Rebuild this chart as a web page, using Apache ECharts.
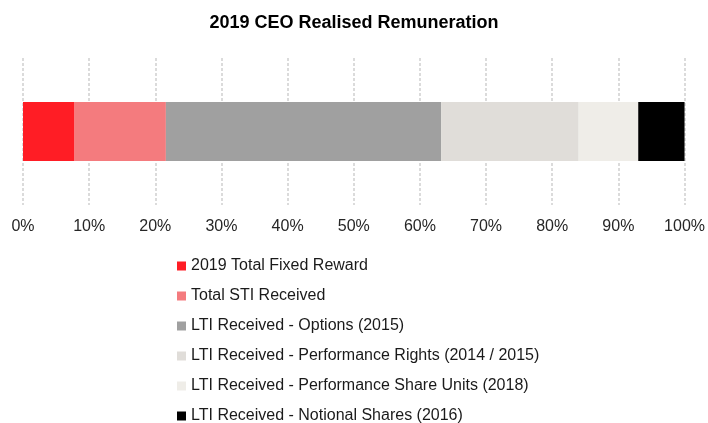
<!DOCTYPE html>
<html>
<head>
<meta charset="utf-8">
<script src="https://cdn.jsdelivr.net/npm/echarts@6/dist/echarts.min.js"></script>
<style>
  html, body { margin: 0; padding: 0; background: #fff; }
  #chart { width: 708px; height: 423px; }
</style>
</head>
<body>
<div id="chart"></div>
<script>
const categories = ['2019 CEO'];
const seriesNames = [
  '2019 Total Fixed Reward',
  'Total STI Received',
  'LTI Received - Options (2015)',
  'LTI Received - Performance Rights (2014 / 2015)',
  'LTI Received - Performance Share Units (2018)',
  'LTI Received - Notional Shares (2016)'
];
const shares = [7.8, 13.8, 41.6, 20.8, 9.0, 7.0];
const colors = ['#ff1d25', '#f47b7e', '#a0a0a0', '#e0ddd9', '#efede8', '#000000'];

const chart = echarts.init(document.getElementById('chart'));

const option = {
  animation: false,
  color: colors,
  title: {
    text: '2019 CEO Realised Remuneration',
    left: 'center',
    top: 9,
    textStyle: {
      fontFamily: 'Liberation Sans, Arial, sans-serif',
      fontSize: 18,
      fontWeight: 'bold',
      color: '#000'
    }
  },
  legend: {
    orient: 'vertical',
    left: 172,
    top: 253,
    height: 170,
    itemWidth: 9,
    itemHeight: 9,
    itemGap: 14,
    icon: 'rect',
    data: seriesNames,
    textStyle: {
      fontFamily: 'Liberation Sans, Arial, sans-serif',
      fontSize: 16,
      lineHeight: 16,
      color: '#1a1a1a'
    }
  },
  grid: {
    left: 23,
    right: 21,
    top: 58,
    height: 147,
    containLabel: false
  },
  xAxis: {
    type: 'value',
    min: 0,
    max: 100,
    interval: 10,
    axisLine: { show: false },
    axisTick: { show: false },
    splitLine: {
      show: true,
      lineStyle: { color: '#d0d0d0', type: [3, 2], width: 1.5 }
    },
    axisLabel: {
      formatter: '{value}%',
      margin: 14,
      fontFamily: 'Liberation Sans, Arial, sans-serif',
      fontSize: 16,
      color: '#262626'
    }
  },
  yAxis: {
    type: 'category',
    data: categories,
    show: false
  },
  series: seriesNames.map((name, i) => ({
    name: name,
    type: 'bar',
    stack: 'total',
    barWidth: 59,
    data: [shares[i]],
    itemStyle: { color: colors[i] }
  }))
};

chart.setOption(option);
</script>
</body>
</html>
